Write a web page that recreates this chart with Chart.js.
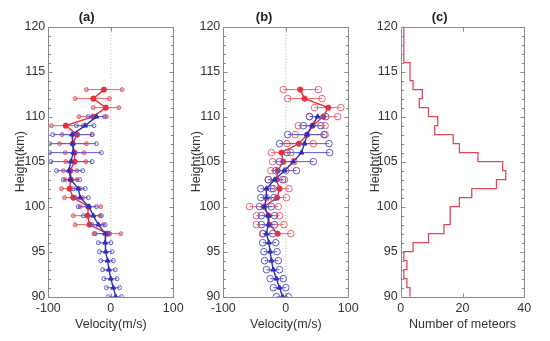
<!DOCTYPE html>
<html>
<head>
<meta charset="utf-8">
<script src="https://cdn.jsdelivr.net/npm/chart.js@4"></script>
<style>
  body { margin: 0; background: #fff; }
  #wrap { position: relative; width: 550px; height: 341px; overflow: hidden; }
  canvas { position: absolute; top: 0; }
</style>
</head>
<body>
<div id="wrap">
  <canvas id="chartA" width="200" height="341" style="left:0px"></canvas>
  <canvas id="chartB" width="200" height="341" style="left:180px"></canvas>
  <canvas id="chartC" width="195" height="341" style="left:355px"></canvas>
</div>
<script>
// Panel (a) - red profile
const redHeightsA = [113, 112, 111, 110, 109, 108, 107, 106, 105, 104, 103, 102, 101, 100, 99, 98, 97];
const redMeanA = [-11, -28, -8, -28, -72, -54, -61, -58, -58, -65, -64, -66, -60, -36, -37, -34, -5];
const redLowA = [-39, -57, -28, -51, -95, -78, -82, -73, -72, -76, -73, -79, -74, -49, -60, -57, -27];
const redHighA = [18, -2, 13, -7, -44, -30, -39, -43, -40, -54, -54, -49, -45, -16, -17, -12, 16];

// Panel (a) - blue profile
const blueHeightsA = [110, 109, 108, 107, 106, 105, 104, 103, 102, 101, 100, 99, 98, 97, 96, 95, 94, 93, 92, 91, 90];
const blueMeanA = [-23, -41, -62, -61, -60, -64, -67, -64, -52, -49, -35, -28, -20, -9, -9, -8, -5, -3, 0, 4, 8];
const blueLowA = [-36, -55, -93, -98, -98, -96, -87, -76, -60, -57, -52, -44, -30, -25, -20, -18, -16, -13, -11, -7, -4];
const blueHighA = [-10, -27, -30, -23, -15, -30, -45, -50, -41, -36, -23, -15, -9, -2, 0, 2, 4, 7, 10, 14, 17];

// Panel (b) - red profile
const redHeightsB = [113, 112, 111, 110, 109, 108, 107, 106, 105, 104, 103, 102, 101, 100, 99, 98, 97];
const redMeanB = [23, 30, 68, 60, 43, 34, 21, -7, -4, -13, -15, -10, -14, -35, -28, -26, -13];
const redLowB = [-4, 3, 46, 38, 20, 15, 2, -23, -21, -24, -28, -23, -31, -58, -47, -47, -36];
const redHighB = [52, 58, 88, 83, 63, 63, 44, 8, 13, 0, -2, 5, 1, -12, -10, -3, 8];

// Panel (b) - blue profile
const blueHeightsB = [110, 109, 108, 107, 106, 105, 104, 103, 102, 101, 100, 99, 98, 97, 96, 95, 94, 93, 92, 91, 90];
const blueMeanB = [51, 42, 34, 30, 25, 12, -2, -18, -31, -31, -34, -28, -28, -31, -27, -25, -23, -20, -15, -10, -5];
const blueLowB = [38, 28, 3, -10, 2, -10, -16, -28, -40, -40, -42, -39, -39, -37, -37, -35, -34, -31, -25, -20, -15];
const blueHighB = [64, 56, 61, 69, 70, 44, 17, -5, -20, -19, -23, -18, -18, -21, -16, -14, -12, -10, -4, 0, 4];

// Panel (c) - meteor counts per 1 km bin (bin start heights)
const binStarts = [90, 91, 92, 93, 94, 95, 96, 97, 98, 99, 100, 101, 102, 103, 104,
                   105, 106, 107, 108, 109, 110, 111, 112, 113, 114, 115, 116, 117, 118, 119];
const meteorCounts = [3, 2, 1, 2, 1, 4, 9, 14, 16, 16, 19, 23, 31, 34, 33,
                      25, 19, 17, 11, 12, 9, 6, 7, 4, 3, 3, 1, 1, 1, 1];

const yTicks = [90, 95, 100, 105, 110, 115, 120];

const RED = 'rgb(232, 48, 58)';
const RED_LIGHT = 'rgb(236, 96, 106)';
const BLUE = 'rgb(48, 48, 184)';
const BLUE_LIGHT = 'rgb(88, 88, 204)';
const GRAY = '#8a8a8a';

Chart.defaults.font.family = "'Liberation Sans', Arial, sans-serif";
Chart.defaults.color = '#333';

// error bars: one segment per height, broken by null points
function errorPoints(heights, low, high) {
  const pts = [];
  heights.forEach((h, i) => {
    pts.push({ x: low[i], y: h }, { x: high[i], y: h }, { x: null, y: null });
  });
  return pts;
}

function meanPoints(heights, mean) {
  return heights.map((h, i) => ({ x: mean[i], y: h }));
}

// box around plot area + inward ticks
const framePlugin = {
  id: 'frame',
  afterDatasetsDraw(chart) {
    const { ctx, chartArea: a, scales: { x, y } } = chart;
    ctx.save();
    ctx.strokeStyle = GRAY;
    ctx.lineWidth = 1;
    const l = Math.round(a.left) + 0.5;
    const r = Math.round(a.right) + 0.5;
    const t = Math.round(a.top) + 0.5;
    const b = Math.round(a.bottom) + 0.5;
    ctx.strokeRect(l, t, r - l, b - t);
    ctx.beginPath();
    for (let v = y.min; v <= y.max; v++) {
      const py = Math.round(y.getPixelForValue(v)) + 0.5;
      const len = v % 5 === 0 ? 4 : 2.5;
      ctx.moveTo(l, py); ctx.lineTo(l + len, py);
      ctx.moveTo(r, py); ctx.lineTo(r - len, py);
    }
    x.ticks.forEach(tk => {
      const px = Math.round(x.getPixelForValue(tk.value)) + 0.5;
      ctx.moveTo(px, b); ctx.lineTo(px, b - 4);
      ctx.moveTo(px, t); ctx.lineTo(px, t + 4);
    });
    ctx.stroke();
    ctx.restore();
  }
};

function makeOptions(cfg) {
  return {
    responsive: false,
    animation: false,
    layout: { padding: { left: 0, right: cfg.padRight, top: 0, bottom: 0 } },
    plugins: {
      legend: { display: false },
      tooltip: { enabled: false },
      title: {
        display: true,
        text: cfg.title,
        color: '#222',
        font: { size: 13, weight: 'bold' },
        padding: { top: 10, bottom: 1 }
      }
    },
    scales: {
      x: {
        type: 'linear',
        min: cfg.xMin,
        max: cfg.xMax,
        ticks: { stepSize: cfg.xStep, padding: 4, font: { size: 12.5 }, color: '#333' },
        grid: { display: false, drawTicks: false },
        border: { display: false },
        title: { display: true, text: cfg.xTitle, font: { size: 12.5 }, color: '#333', padding: { top: 0, bottom: 9 } },
        afterFit: s => { s.height = 44.3; }
      },
      y: {
        type: 'linear',
        min: 90,
        max: 120,
        afterBuildTicks: s => { s.ticks = yTicks.map(v => ({ value: v })); },
        ticks: { padding: 3, font: { size: 12.5 }, color: '#333' },
        grid: { display: false, drawTicks: false },
        border: { display: false },
        title: { display: true, text: 'Height(km)', font: { size: 12.5 }, color: '#333', padding: { top: cfg.yTitlePad, bottom: 0 } },
        afterFit: s => { s.width = cfg.yWidth; }
      }
    }
  };
}

function profileDatasets(rH, rM, rL, rHi, bH, bM, bL, bHi, openEnds) {
  const endRadius = openEnds ? 3.3 : 2;
  return [
    // blue first so it is drawn on top
    {
      data: meanPoints(bH, bM), showLine: true,
      borderColor: BLUE, borderWidth: 1.4,
      pointStyle: 'triangle', pointRadius: 2.8,
      pointBackgroundColor: BLUE, pointBorderColor: BLUE, pointBorderWidth: 1
    },
    {
      data: errorPoints(bH, bL, bHi), showLine: true,
      borderColor: BLUE_LIGHT, borderWidth: 1,
      pointStyle: 'circle', pointRadius: endRadius,
      pointBackgroundColor: 'rgba(255,255,255,0)', pointBorderColor: BLUE_LIGHT, pointBorderWidth: 1
    },
    {
      data: meanPoints(rH, rM), showLine: true,
      borderColor: RED, borderWidth: 1.4,
      pointStyle: 'circle', pointRadius: 2.6,
      pointBackgroundColor: RED, pointBorderColor: RED, pointBorderWidth: 1
    },
    {
      data: errorPoints(rH, rL, rHi), showLine: true,
      borderColor: RED_LIGHT, borderWidth: 1,
      pointStyle: 'circle', pointRadius: endRadius,
      pointBackgroundColor: openEnds ? 'rgba(255,255,255,0)' : 'rgba(236, 96, 106, 0.5)',
      pointBorderColor: RED_LIGHT, pointBorderWidth: 1
    },
    // dotted zero line
    {
      data: [{ x: 0, y: 90 }, { x: 0, y: 120 }], showLine: true,
      borderColor: '#b0b0b0', borderWidth: 1, borderDash: [1, 2],
      pointRadius: 0
    }
  ];
}

new Chart(document.getElementById('chartA'), {
  type: 'scatter',
  data: {
    datasets: profileDatasets(redHeightsA, redMeanA, redLowA, redHighA,
      blueHeightsA, blueMeanA, blueLowA, blueHighA, false)
  },
  options: makeOptions({ title: '(a)', xMin: -100, xMax: 100, xStep: 100, xTitle: 'Velocity(m/s)',
    yWidth: 48.3, yTitlePad: 13, padRight: 26.7 }),
  plugins: [framePlugin]
});

new Chart(document.getElementById('chartB'), {
  type: 'scatter',
  data: {
    datasets: profileDatasets(redHeightsB, redMeanB, redLowB, redHighB,
      blueHeightsB, blueMeanB, blueLowB, blueHighB, true)
  },
  options: makeOptions({ title: '(b)', xMin: -100, xMax: 100, xStep: 100, xTitle: 'Velocity(m/s)',
    yWidth: 43.3, yTitlePad: 9, padRight: 31.7 }),
  plugins: [framePlugin]
});

// histogram as a stepped line: value at each bin start, closed at 120 km
const histPoints = binStarts.map((h, i) => ({ x: meteorCounts[i], y: h }));
histPoints.push({ x: meteorCounts[meteorCounts.length - 1], y: binStarts[binStarts.length - 1] + 1 });

new Chart(document.getElementById('chartC'), {
  type: 'scatter',
  data: {
    datasets: [{
      data: histPoints, showLine: true, stepped: 'after',
      borderColor: 'rgb(226, 72, 88)', borderWidth: 1.3, pointRadius: 0
    }]
  },
  options: makeOptions({ title: '(c)', xMin: 0, xMax: 40, xStep: 20, xTitle: 'Number of meteors',
    yWidth: 45.7, yTitlePad: 13, padRight: 25.7 }),
  plugins: [framePlugin]
});
</script>
</body>
</html>
